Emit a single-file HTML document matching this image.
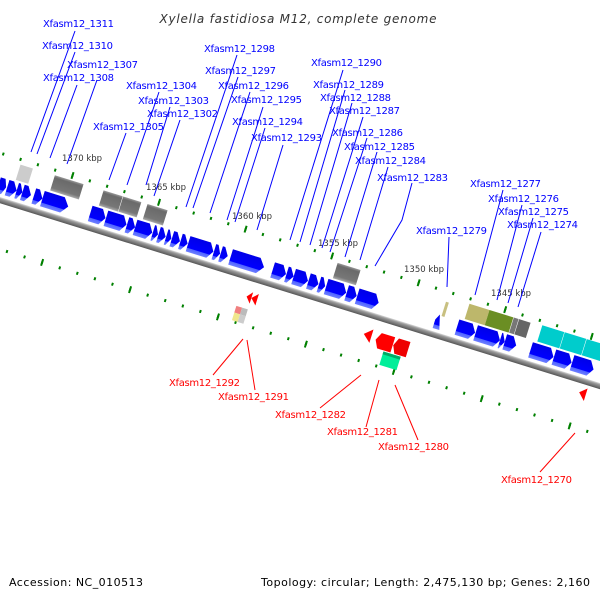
<!DOCTYPE html>
<html><head><meta charset="utf-8"><style>
html,body{margin:0;padding:0;background:#fff;}
svg{display:block;}
text{font-family:"DejaVu Sans","Liberation Sans",sans-serif;}
.b{fill:#0000ff;font-size:10px;}
.r{fill:#ff0000;font-size:10px;}
.k{fill:#333;font-size:8.5px;}
</style></head><body>
<svg width="600" height="600" viewBox="0 0 600 600" xmlns="http://www.w3.org/2000/svg">
<defs>
<linearGradient id="gb" gradientUnits="userSpaceOnUse" x1="0" y1="-19" x2="0" y2="-3">
<stop offset="0" stop-color="#0000e8"/><stop offset="0.74" stop-color="#0000ff"/><stop offset="0.77" stop-color="#4f63ff"/><stop offset="1" stop-color="#6f80ff"/></linearGradient>
<linearGradient id="gg" gradientUnits="userSpaceOnUse" x1="0" y1="-37" x2="0" y2="-21">
<stop offset="0" stop-color="#999"/><stop offset="0.15" stop-color="#6a6a6a"/><stop offset="0.8" stop-color="#777"/><stop offset="1" stop-color="#aaa"/></linearGradient>
<linearGradient id="gl" gradientUnits="userSpaceOnUse" x1="0" y1="0" x2="0" y2="6">
<stop offset="0" stop-color="#ddd"/><stop offset="0.3" stop-color="#999"/><stop offset="1" stop-color="#555"/></linearGradient>
</defs>

<text x="298" y="23" text-anchor="middle" font-style="italic" font-size="12" fill="#333" textLength="277">Xylella fastidiosa M12, complete genome</text>

<g transform="translate(0,197) rotate(17.22)">
<rect x="-20" y="0" width="720" height="6" fill="url(#gl)"/>
<line x1="-28.7" y1="-42" x2="760" y2="-42" stroke="#008000" stroke-width="3" stroke-dasharray="2 16.12"/>
<line x1="-28.7" y1="-42" x2="760" y2="-42" stroke="#008000" stroke-width="7" stroke-dasharray="2 88.6"/>
<line x1="-33.45" y1="50" x2="760" y2="50" stroke="#008000" stroke-width="3" stroke-dasharray="2 16.41"/>
<line x1="-33.45" y1="50" x2="760" y2="50" stroke="#008000" stroke-width="7" stroke-dasharray="2 90.05"/>

<g stroke="none">
<rect x="10" y="-37" width="13" height="16" fill="#ccc"/>
<rect x="46" y="-37" width="30" height="16" fill="url(#gg)"/>
<rect x="97" y="-37" width="20" height="16" fill="url(#gg)"/>
<rect x="117.5" y="-37" width="19" height="16" fill="url(#gg)"/>
<rect x="143" y="-37" width="21" height="16" fill="url(#gg)"/>
<rect x="342" y="-37" width="24" height="16" fill="url(#gg)"/>
<rect x="457" y="-32" width="3" height="15" fill="#c8c080"/>
<rect x="480" y="-37" width="21" height="16" fill="#bdb76b"/>
<rect x="501" y="-37" width="25" height="16" fill="#6b8e23"/>
<rect x="526.5" y="-37" width="5" height="16" fill="#777"/>
<rect x="532" y="-37" width="12" height="16" fill="#666"/>
<rect x="556" y="-38" width="23" height="17" fill="#00cccc"/>
<rect x="579.5" y="-38" width="22.5" height="17" fill="#00cccc"/>
<rect x="602.5" y="-38" width="22" height="17" fill="#00cccc"/>
</g>

<g fill="url(#gb)">
<polygon points="-5,-19 0,-19 3,-11 0,-3 -5,-3"/>
<polygon points="4,-19 9,-19 14,-11 9,-3 4,-3"/>
<polygon points="14,-19 16,-19 20,-11 16,-3 14,-3"/>
<polygon points="20,-19 24,-19 29,-11 24,-3 20,-3"/>
<polygon points="32,-19 36,-19 41,-11 36,-3 32,-3"/>
<polygon points="41,-19 62,-19 68,-11 62,-3 41,-3"/>
<polygon points="91,-19 102,-19 107,-11 102,-3 91,-3"/>
<polygon points="107.5,-19 124,-19 129,-11 124,-3 107.5,-3"/>
<polygon points="129.5,-19 133,-19 138,-11 133,-3 129.5,-3"/>
<polygon points="138,-19 151,-19 156,-11 151,-3 138,-3"/>
<polygon points="156.5,-19 158,-19 162,-11 158,-3 156.5,-3"/>
<polygon points="162.5,-19 165,-19 170,-11 165,-3 162.5,-3"/>
<polygon points="170.5,-19 172,-19 176,-11 172,-3 170.5,-3"/>
<polygon points="176.5,-19 180,-19 185,-11 180,-3 176.5,-3"/>
<polygon points="185.5,-19 188,-19 193,-11 188,-3 185.5,-3"/>
<polygon points="193.5,-19 215,-19 220,-11 215,-3 193.5,-3"/>
<polygon points="220.5,-19 223,-19 227,-11 223,-3 220.5,-3"/>
<polygon points="227.5,-19 230,-19 235,-11 230,-3 227.5,-3"/>
<polygon points="238,-19 267,-19 273,-11 267,-3 238,-3"/>
<polygon points="282,-19 291,-19 296,-11 291,-3 282,-3"/>
<polygon points="296.5,-19 299,-19 304,-11 299,-3 296.5,-3"/>
<polygon points="304,-19 314,-19 319,-11 314,-3 304,-3"/>
<polygon points="319.5,-19 325,-19 330,-11 325,-3 319.5,-3"/>
<polygon points="330.5,-19 333,-19 337,-11 333,-3 330.5,-3"/>
<polygon points="338,-19 354,-19 359,-11 354,-3 338,-3"/>
<polygon points="359.5,-19 365,-19 370,-11 365,-3 359.5,-3"/>
<polygon points="370.5,-19 388,-19 393,-11 388,-3 370.5,-3"/>
<polygon points="452,-12 455,-18 459,-3 452,-3"/>
<polygon points="475,-19 489,-19 494,-11 489,-3 475,-3"/>
<polygon points="494.5,-19 515,-19 520,-11 515,-3 494.5,-3"/>
<polygon points="520,-19 521,-19 525,-11 521,-3 520,-3"/>
<polygon points="525,-19 532,-19 537,-11 532,-3 525,-3"/>
<polygon points="552,-19 571,-19 576,-11 571,-3 552,-3"/>
<polygon points="576.5,-19 590,-19 595,-11 590,-3 576.5,-3"/>
<polygon points="595.5,-19 613,-19 618,-11 613,-3 595.5,-3"/>
</g>

<polygon points="265,22 270,16 270,28" fill="#ff0000"/>
<polygon points="270,22 276,16 276,28" fill="#ff0000"/>
<rect x="258" y="34" width="6" height="7" fill="#f08080"/>
<rect x="264" y="34" width="6" height="7" fill="#bbb"/>
<rect x="258" y="41" width="6" height="8" fill="#f0e68c"/>
<rect x="264" y="41" width="6" height="8" fill="#ccc"/>
<polygon points="388,23 396,16 396,30" fill="#ff0000"/>
<polygon points="401,25 405,17 419,17 419,33 405,33" fill="#ff0000"/>
<polygon points="419.5,25 423,17 435,17 435,33 423,33" fill="#ee0000"/>
<rect x="412" y="34" width="18" height="14" fill="#00ee99"/>
<rect x="412" y="34" width="18" height="3" fill="#00aa66"/>
<polygon points="611,15 618,9 618,22" fill="#ff0000"/>
</g>

<text class="k" x="62" y="161">1370 kbp</text>
<text class="k" x="146" y="190">1365 kbp</text>
<text class="k" x="232" y="219">1360 kbp</text>
<text class="k" x="318" y="246">1355 kbp</text>
<text class="k" x="404" y="272">1350 kbp</text>
<text class="k" x="491" y="296">1345 kbp</text>

<g stroke="#0000ff" stroke-width="1" fill="none">
<line x1="75" y1="31" x2="31" y2="152"/>
<line x1="75" y1="52" x2="37" y2="154"/>
<line x1="77" y1="85" x2="50" y2="158"/>
<line x1="97" y1="80" x2="67" y2="164"/>
<line x1="159" y1="92" x2="127" y2="185"/>
<line x1="170" y1="107" x2="146" y2="185"/>
<line x1="180" y1="120" x2="154" y2="196"/>
<line x1="126" y1="133" x2="109" y2="180"/>
<line x1="237" y1="55" x2="186" y2="207"/>
<line x1="238" y1="77" x2="193" y2="208"/>
<line x1="250" y1="92" x2="210" y2="213"/>
<line x1="263" y1="107" x2="227" y2="220"/>
<line x1="265" y1="128" x2="235" y2="222"/>
<line x1="283" y1="145" x2="257" y2="230"/>
<line x1="343" y1="70" x2="290" y2="240"/>
<line x1="345" y1="90" x2="300" y2="242"/>
<line x1="352" y1="103" x2="310" y2="245"/>
<line x1="363" y1="117" x2="322" y2="248"/>
<line x1="367" y1="138" x2="330" y2="252"/>
<line x1="377" y1="152" x2="345" y2="257"/>
<line x1="388" y1="167" x2="360" y2="260"/>
<polyline points="412,183 402,220 375,266"/>
<line x1="449" y1="237" x2="447" y2="287"/>
<line x1="503" y1="190" x2="475" y2="295"/>
<line x1="522" y1="205" x2="497" y2="300"/>
<line x1="533" y1="218" x2="508" y2="303"/>
<line x1="541" y1="232" x2="518" y2="307"/>
</g>
<g stroke="#ff0000" stroke-width="1">
<line x1="243" y1="339" x2="213" y2="375"/>
<line x1="247" y1="340" x2="255" y2="390"/>
<line x1="361" y1="375" x2="320" y2="408"/>
<line x1="379" y1="380" x2="366" y2="427"/>
<line x1="395" y1="385" x2="418" y2="440"/>
<line x1="575" y1="433" x2="540" y2="472"/>
</g>

<text class="b" x="43" y="27" textLength="71">Xfasm12_1311</text>
<text class="b" x="42" y="49" textLength="71">Xfasm12_1310</text>
<text class="b" x="67" y="68" textLength="71">Xfasm12_1307</text>
<text class="b" x="43" y="81" textLength="71">Xfasm12_1308</text>
<text class="b" x="126" y="89" textLength="71">Xfasm12_1304</text>
<text class="b" x="138" y="104" textLength="71">Xfasm12_1303</text>
<text class="b" x="147" y="117" textLength="71">Xfasm12_1302</text>
<text class="b" x="93" y="130" textLength="71">Xfasm12_1305</text>
<text class="b" x="204" y="52" textLength="71">Xfasm12_1298</text>
<text class="b" x="205" y="74" textLength="71">Xfasm12_1297</text>
<text class="b" x="218" y="89" textLength="71">Xfasm12_1296</text>
<text class="b" x="231" y="103" textLength="71">Xfasm12_1295</text>
<text class="b" x="232" y="125" textLength="71">Xfasm12_1294</text>
<text class="b" x="251" y="141" textLength="71">Xfasm12_1293</text>
<text class="b" x="311" y="66" textLength="71">Xfasm12_1290</text>
<text class="b" x="313" y="88" textLength="71">Xfasm12_1289</text>
<text class="b" x="320" y="101" textLength="71">Xfasm12_1288</text>
<text class="b" x="329" y="114" textLength="71">Xfasm12_1287</text>
<text class="b" x="332" y="136" textLength="71">Xfasm12_1286</text>
<text class="b" x="344" y="150" textLength="71">Xfasm12_1285</text>
<text class="b" x="355" y="164" textLength="71">Xfasm12_1284</text>
<text class="b" x="377" y="181" textLength="71">Xfasm12_1283</text>
<text class="b" x="416" y="234" textLength="71">Xfasm12_1279</text>
<text class="b" x="470" y="187" textLength="71">Xfasm12_1277</text>
<text class="b" x="488" y="202" textLength="71">Xfasm12_1276</text>
<text class="b" x="498" y="215" textLength="71">Xfasm12_1275</text>
<text class="b" x="507" y="228" textLength="71">Xfasm12_1274</text>
<text class="r" x="169" y="386" textLength="71">Xfasm12_1292</text>
<text class="r" x="218" y="400" textLength="71">Xfasm12_1291</text>
<text class="r" x="275" y="418" textLength="71">Xfasm12_1282</text>
<text class="r" x="327" y="435" textLength="71">Xfasm12_1281</text>
<text class="r" x="378" y="450" textLength="71">Xfasm12_1280</text>
<text class="r" x="501" y="483" textLength="71">Xfasm12_1270</text>

<text x="9" y="586" font-size="11" fill="#000" textLength="134">Accession: NC_010513</text>
<text x="261" y="586" font-size="11" fill="#000" textLength="329">Topology: circular; Length: 2,475,130 bp; Genes: 2,160</text>
</svg>
</body></html>
